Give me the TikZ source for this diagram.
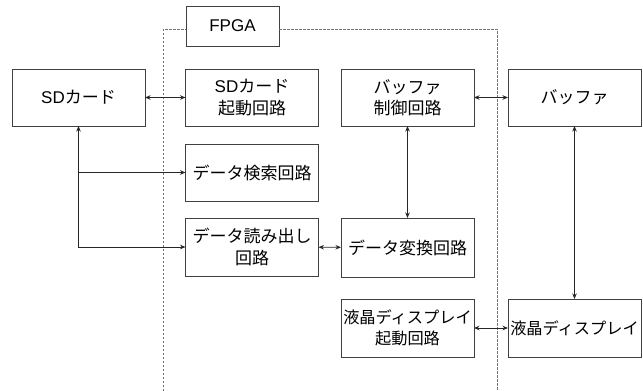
\documentclass[tikz,border=0pt]{standalone}
\usepackage{fontspec}
\setmainfont{Noto Sans CJK JP}
\newfontfamily\latn{Liberation Sans}
\usetikzlibrary{arrows.meta}
\begin{document}
\begin{tikzpicture}[x=1pt,y=-1pt,
  box/.style={draw=black!75, line width=0.9pt, fill=white, minimum width=133pt, minimum height=57pt, inner sep=0pt, outer sep=0pt, align=center, font=\fontsize{17}{21.5}\selectfont},
  narrow/.style={font=\fontsize{16.2}{21.5}\selectfont},
  conn/.style={draw=black!85, line width=0.8pt, {Stealth[length=5.5pt,width=4.5pt]}-{Stealth[length=5.5pt,width=4.5pt]}},
  oneway/.style={draw=black!85, line width=0.8pt, -{Stealth[length=5.5pt,width=4.5pt]}},
  frame/.style={draw=black!55, line width=0.8pt, dash pattern=on 2.5pt off 1.5pt}]
\path[use as bounding box] (0,0) rectangle (643,391);
% FPGA frame
\coordinate (fl) at (163,391);
\coordinate (fr) at (497,391);
\node[box, minimum width=93pt, minimum height=40pt] (fpga) at (232.5,26) {\latn FPGA};
\draw[frame] (fl) -- (fl |- 0,29) -- (fpga.west |- 0,29);
\draw[frame] (fpga.east |- 0,29) -- (fr |- 0,29) -- (fr);
% boxes
\node[box] (sd) at (78.5,97.5) {{\latn SD}カード};
\node[box] (sdinit) at (252,97.5) {{\latn SD}カード\\起動回路};
\node[box] (search) at (252,172.5) {データ検索回路};
\node[box, minimum height=58pt] (read) at (252,247) {データ読み出し\\回路};
\node[box] (bufctl) at (407.5,97.5) {バッファ\\制御回路};
\node[box] (buf) at (574.5,97.5) {バッファ};
\node[box, minimum height=59pt] (conv) at (407.5,247.5) {データ変換回路};
\node[box, narrow, minimum height=58pt] (lcdinit) at (407.5,328) {液晶ディスプレイ\\起動回路};
\node[box, narrow, minimum height=58pt] (lcd) at (574.5,328) {液晶ディスプレイ};
% connectors
\draw[conn] (sd) -- (sdinit);
\draw[conn] (sd) |- (read);
\draw[oneway] (sd.south |- search.west) -- (search.west);
\draw[conn] (read) -- (conv);
\draw[conn] (bufctl) -- (buf);
\draw[conn] (bufctl) -- (conv);
\draw[conn] (buf) -- (lcd);
\draw[conn] (lcdinit) -- (lcd);
\end{tikzpicture}
\end{document}
